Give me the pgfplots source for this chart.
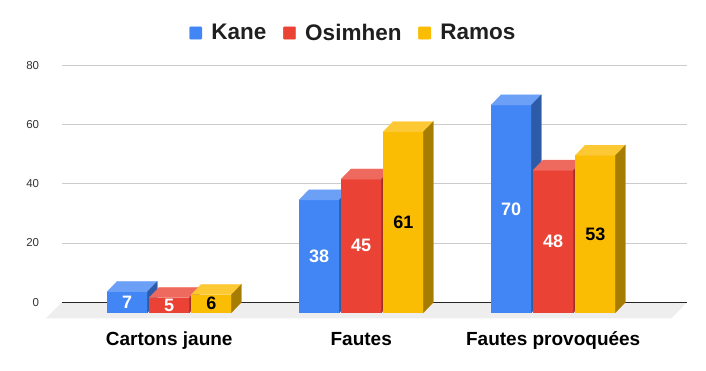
\documentclass[border=0pt]{standalone}
\usepackage{fontspec}
\setmainfont{Liberation Sans}
\usepackage{pgfplots}
\usepackage{pgfplotstable}
\pgfplotsset{compat=1.18}

\definecolor{kane}{HTML}{4285F4}
\definecolor{kanetop}{HTML}{6BA0F6}
\definecolor{kaneside}{HTML}{2E5BA8}
\definecolor{osi}{HTML}{EA4335}
\definecolor{ositop}{HTML}{EE6A5F}
\definecolor{osiside}{HTML}{A32F25}
\definecolor{ram}{HTML}{FBBC04}
\definecolor{ramtop}{HTML}{FCC934}
\definecolor{ramside}{HTML}{A67C02}
\definecolor{floorc}{HTML}{EEEEEE}
\definecolor{gridc}{HTML}{CCCCCC}
\definecolor{tickc}{HTML}{333333}

\pgfplotstableread{
g kane osimhen ramos
0 7 5 6
1 38 45 61
2 70 48 53
}\data

% 3D bar: #1 group centre, #2 offset of left edge, #3 value, #4 colour prefix
\newcommand{\tdbar}[4]{%
  \pgfmathsetmacro{\xa}{#1+#2}%
  \pgfmathsetmacro{\xb}{\xa+0.21}%
  \pgfmathsetmacro{\xc}{\xa+0.0521}%
  \pgfmathsetmacro{\xd}{\xb+0.0521}%
  \pgfmathsetmacro{\yt}{#3+3.47}%
  \edef\tdtemp{%
    \noexpand\addplot[fill=#4, draw=#4, line width=0.2pt, forget plot] coordinates {(\xa,0) (\xa,#3) (\xb,#3) (\xb,0)} -- cycle;
    \noexpand\addplot[fill=#4top, draw=#4top, line width=0.2pt, forget plot] coordinates {(\xa,#3) (\xc,\yt) (\xd,\yt) (\xb,#3)} -- cycle;
    \noexpand\addplot[fill=#4side, draw=#4side, line width=0.2pt, forget plot] coordinates {(\xb,0) (\xd,3.47) (\xd,\yt) (\xb,#3)} -- cycle;
  }\tdtemp
}

\begin{document}
\begin{tikzpicture}
\path[use as bounding box] (0,0) rectangle (706pt,371pt);
\begin{axis}[
  at={(45.94pt,52.575pt)}, anchor=south west,
  scale only axis,
  width=641.1pt, height=266.625pt,
  xmin=-0.642, xmax=2.697,
  ymin=-2, ymax=88,
  clip=false,
  axis line style={draw=none},
  major tick length=0pt,
  tick style={draw=none},
  xtick={0,1,2},
  xticklabels={Cartons jaune,Fautes,Fautes provoquées},
  xticklabel style={anchor=base, inner sep=0pt, yshift=-27.3pt, font=\bfseries\fontsize{19}{19}\selectfont, text=black},
  ytick={3.45,23.45,43.45,63.45,83.45},
  yticklabels={0,20,40,60,80},
  yticklabel style={anchor=east, inner sep=0pt, xshift=-6.6pt, font=\fontsize{11.5}{11.5}\selectfont, text=tickc},
  /pgf/number format/assume math mode=true,
  legend columns=3,
  legend cell align=left,
  legend style={draw=none, fill=none, inner sep=0pt, at={(0.4779,1.0705)}, anchor=center,
    nodes={inner sep=0pt}, font=\bfseries\fontsize{22.5}{22.5}\selectfont, text=black!88,
    /tikz/every odd column/.style={column sep=9.3pt},
    /tikz/every even column/.style={column sep=16.7pt}},
]
\addlegendimage{legend image code/.code={\fill[kane, rounded corners=1pt] (0pt,-6.2pt) rectangle (12.4pt,6.2pt);}}
\addlegendentry{Kane}
\addlegendimage{legend image code/.code={\fill[osi, rounded corners=1pt] (0pt,-6.2pt) rectangle (12.4pt,6.2pt);}}
\addlegendentry{Osimhen}
\addlegendimage{legend image code/.code={\fill[ram, rounded corners=1pt] (0pt,-6.2pt) rectangle (12.4pt,6.2pt);}}
\addlegendentry{Ramos}

% grid lines (back plane)
\addplot[gridc, line width=0.9pt, forget plot] coordinates {(-0.560,23.45) (2.697,23.45)};
\addplot[gridc, line width=0.9pt, forget plot] coordinates {(-0.560,43.45) (2.697,43.45)};
\addplot[gridc, line width=0.9pt, forget plot] coordinates {(-0.560,63.45) (2.697,63.45)};
\addplot[gridc, line width=0.9pt, forget plot] coordinates {(-0.560,83.45) (2.697,83.45)};
% floor
\addplot[fill=floorc, draw=none, forget plot] coordinates {(-0.642,-1.96) (-0.560,3.45) (2.697,3.45) (2.617,-1.96)} -- cycle;
\addplot[black!85, line width=1pt, forget plot] coordinates {(-0.560,3.45) (2.697,3.45)};

% bars
\pgfplotsforeachungrouped \i in {0,1,2}{%
  \pgfplotstablegetelem{\i}{kane}\of\data \let\vk\pgfplotsretval
  \pgfplotstablegetelem{\i}{osimhen}\of\data \let\vo\pgfplotsretval
  \pgfplotstablegetelem{\i}{ramos}\of\data \let\vr\pgfplotsretval
  \tdbar{\i}{-0.324}{\vk}{kane}
  \tdbar{\i}{-0.105}{\vo}{osi}
  \tdbar{\i}{0.114}{\vr}{ram}
}

% value labels
\addplot[draw=none, forget plot, nodes near coords, point meta=explicit, nodes near coords align=center,
  every node near coord/.append style={anchor=center, font=\bfseries\fontsize{18}{18}\selectfont, text=white}]
  table[x expr=\thisrow{g}-0.219, y expr=\thisrow{kane}/2, meta=kane] {\data};
\addplot[draw=none, forget plot, nodes near coords, point meta=explicit, nodes near coords align=center,
  every node near coord/.append style={anchor=center, font=\bfseries\fontsize{18}{18}\selectfont, text=white}]
  table[x expr=\thisrow{g}, y expr=\thisrow{osimhen}/2, meta=osimhen] {\data};
\addplot[draw=none, forget plot, nodes near coords, point meta=explicit, nodes near coords align=center,
  every node near coord/.append style={anchor=center, font=\bfseries\fontsize{18}{18}\selectfont, text=black}]
  table[x expr=\thisrow{g}+0.219, y expr=\thisrow{ramos}/2, meta=ramos] {\data};
\end{axis}
\end{tikzpicture}
\end{document}
